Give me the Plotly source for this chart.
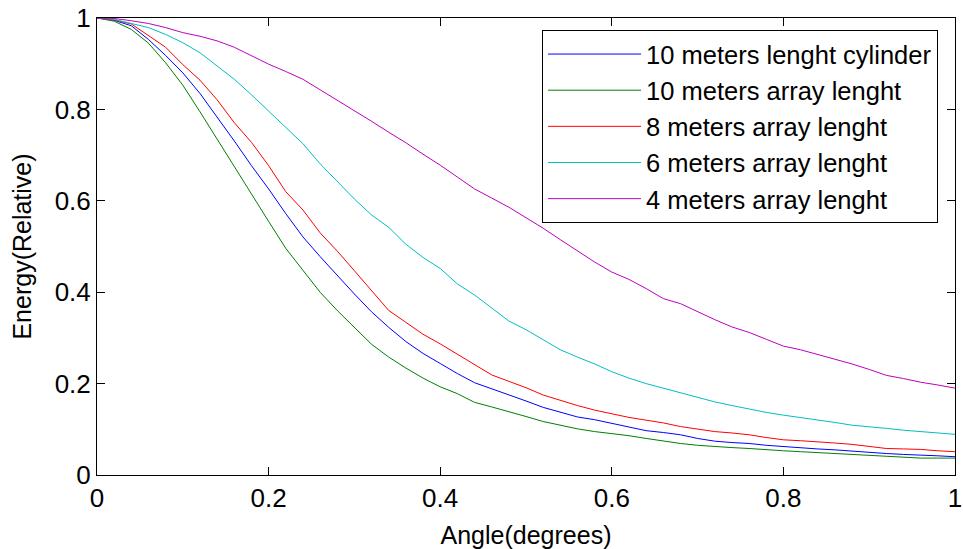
import plotly.graph_objects as go

angle = [round(i * 0.02, 2) for i in range(51)]

cyl10 = [1.0, 0.995, 0.983, 0.953, 0.918, 0.880, 0.835, 0.784, 0.731, 0.677,
         0.626, 0.572, 0.521, 0.478, 0.436, 0.396, 0.357, 0.323, 0.292, 0.266,
         0.244, 0.222, 0.202, 0.189, 0.176, 0.162, 0.148, 0.137, 0.127, 0.121,
         0.113, 0.105, 0.097, 0.093, 0.088, 0.080, 0.074, 0.071, 0.069, 0.065,
         0.062, 0.059, 0.057, 0.055, 0.052, 0.049, 0.047, 0.045, 0.044, 0.042,
         0.040]

arr10 = [1.0, 0.993, 0.975, 0.945, 0.902, 0.853, 0.795, 0.735, 0.672, 0.614,
         0.555, 0.496, 0.447, 0.400, 0.360, 0.323, 0.286, 0.258, 0.234, 0.212,
         0.193, 0.178, 0.159, 0.149, 0.139, 0.128, 0.117, 0.109, 0.101, 0.095,
         0.091, 0.086, 0.080, 0.074, 0.069, 0.065, 0.062, 0.060, 0.058, 0.055,
         0.053, 0.051, 0.049, 0.047, 0.045, 0.043, 0.042, 0.040, 0.037, 0.037,
         0.037]

arr8 = [1.0, 0.996, 0.987, 0.961, 0.936, 0.898, 0.864, 0.821, 0.771, 0.728,
        0.677, 0.620, 0.580, 0.530, 0.490, 0.447, 0.403, 0.360, 0.334, 0.308,
        0.287, 0.264, 0.241, 0.219, 0.205, 0.191, 0.175, 0.163, 0.152, 0.142,
        0.134, 0.126, 0.120, 0.114, 0.106, 0.100, 0.095, 0.092, 0.088, 0.082,
        0.077, 0.075, 0.073, 0.070, 0.067, 0.062, 0.058, 0.057, 0.056, 0.053,
        0.051]

arr6 = [1.0, 0.997, 0.988, 0.979, 0.964, 0.946, 0.924, 0.896, 0.866, 0.832,
        0.797, 0.762, 0.725, 0.681, 0.642, 0.604, 0.569, 0.542, 0.505, 0.476,
        0.452, 0.418, 0.394, 0.366, 0.337, 0.318, 0.296, 0.274, 0.258, 0.243,
        0.226, 0.212, 0.200, 0.190, 0.180, 0.170, 0.160, 0.152, 0.144, 0.137,
        0.131, 0.126, 0.120, 0.115, 0.109, 0.106, 0.102, 0.098, 0.095, 0.092,
        0.089]

arr4 = [1.0, 0.999, 0.994, 0.988, 0.979, 0.968, 0.960, 0.950, 0.936, 0.918,
        0.899, 0.883, 0.866, 0.843, 0.820, 0.798, 0.774, 0.750, 0.727, 0.702,
        0.678, 0.652, 0.626, 0.606, 0.586, 0.563, 0.540, 0.515, 0.491, 0.466,
        0.444, 0.428, 0.408, 0.386, 0.375, 0.357, 0.340, 0.324, 0.312, 0.297,
        0.282, 0.274, 0.264, 0.254, 0.243, 0.231, 0.218, 0.211, 0.203, 0.197,
        0.190]

names = ["10 meters lenght cylinder", "10 meters array lenght",
         "8 meters array lenght", "6 meters array lenght",
         "4 meters array lenght"]
colors = ["#0000FF", "#008000", "#FF0000", "#00BFBF", "#BF00BF"]
series = [cyl10, arr10, arr8, arr6, arr4]

tick_vals = [0, 0.2, 0.4, 0.6, 0.8, 1]
tick_text = ["0", "0.2", "0.4", "0.6", "0.8", "1"]

FONT = "Liberation Sans, Arial"

fig = go.Figure()
for n, c, s in zip(names, colors, series):
    fig.add_trace(go.Scatter(x=angle, y=s, mode="lines", name=n,
                             line=dict(color=c, width=1)))

axis_common = dict(
    showgrid=False, zeroline=False, showline=True, linecolor="black",
    linewidth=1, mirror="ticks", ticks="inside", ticklen=8, tickcolor="black",
    tickfont=dict(family=FONT, size=26, color="black"),
    tickvals=tick_vals, ticktext=tick_text, range=[0, 1],
    automargin=False,
)

fig.update_layout(
    width=963, height=549,
    margin=dict(l=97, r=8, t=18, b=74),
    paper_bgcolor="white", plot_bgcolor="white",
    font=dict(family=FONT, size=26, color="black"),
    xaxis=dict(**axis_common,
               title=dict(text="Angle(degrees)", font=dict(size=25))),
    yaxis=dict(**axis_common,
               title=dict(text="Energy(Relative)", font=dict(size=25))),
    legend=dict(x=0.5187, y=0.9738, xanchor="left", yanchor="top",
                bgcolor="white", bordercolor="black", borderwidth=1,
                itemwidth=93, tracegroupgap=0,
                font=dict(family=FONT, size=25.5, color="black")),
    showlegend=True,
)

fig.write_html(
    "out.html",
    config={"displayModeBar": False},
    post_script="document.body.style.margin='0';document.body.style.overflow='hidden';",
)
